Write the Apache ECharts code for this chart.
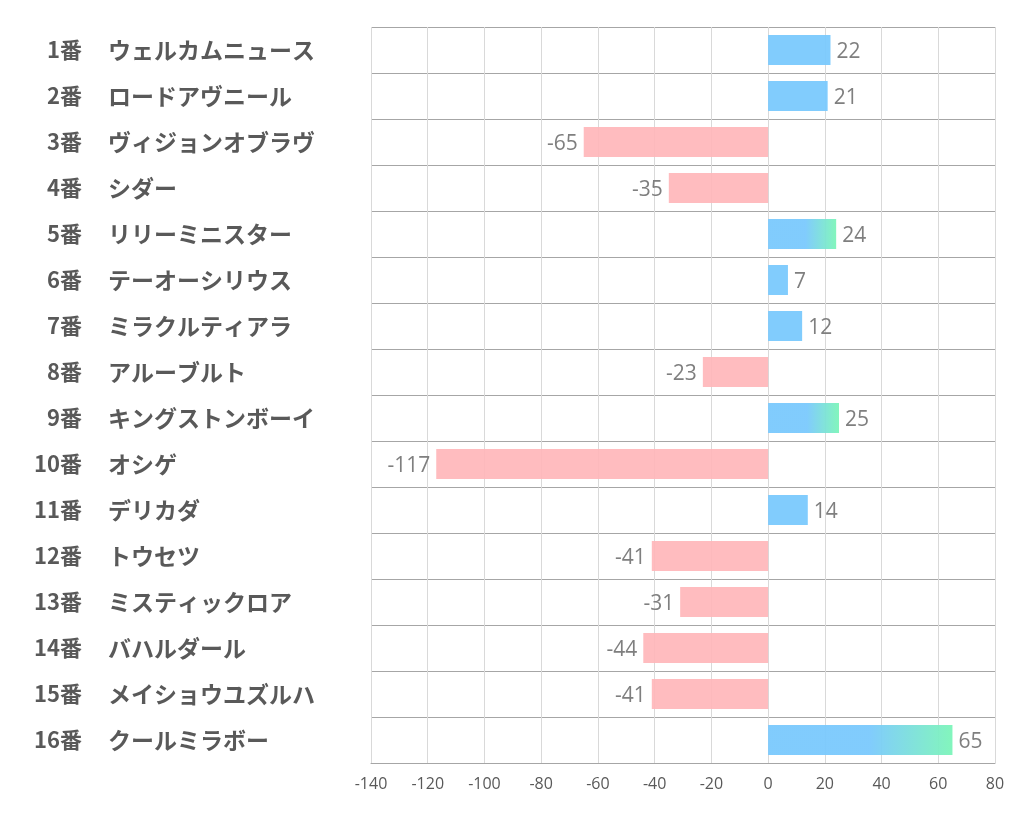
<!DOCTYPE html>
<html><head><meta charset="utf-8">
<script src="https://cdn.jsdelivr.net/npm/echarts@6/dist/echarts.min.js"></script>
<style>html,body{margin:0;padding:0;background:#fff}#c{width:1022px;height:834px}</style>
</head><body><div id="c"></div>
<script>
var numbers = ['1番','2番','3番','4番','5番','6番','7番','8番','9番','10番','11番','12番','13番','14番','15番','16番'];
var names = ['ウェルカムニュース','ロードアヴニール','ヴィジョンオブラヴ','シダー','リリーミニスター','テーオーシリウス','ミラクルティアラ','アルーブルト','キングストンボーイ','オシゲ','デリカダ','トウセツ','ミスティックロア','バハルダール','メイショウユズルハ','クールミラボー'];
var values = [22, 21, -65, -35, 24, 7, 12, -23, 25, -117, 14, -41, -31, -44, -41, 65];
var xTicks = [-140, -120, -100, -80, -60, -40, -20, 0, 20, 40, 60, 80];

var sortedPos = values.filter(function(v){return v>0;}).sort(function(a,b){return b-a;});
var topThreshold = sortedPos[2];
var blue = 'rgba(122,201,253,0.95)', green = 'rgba(124,245,185,0.95)', pink = 'rgba(255,182,186,0.92)';
var data = values.map(function(v){
  var color;
  if (v < 0) color = pink;
  else if (v >= topThreshold) color = new echarts.graphic.LinearGradient(0,0,1,0,[{offset:0,color:blue},{offset:0.55,color:blue},{offset:1,color:green}]);
  else color = blue;
  return {value: v, itemStyle: {color: color}, label: {position: v < 0 ? 'left' : 'right'}};
});

var nameFont = {fontSize: 23, fontWeight: 'bold', color: '#595959', fontFamily: 'Noto Sans CJK JP'};
var numFont = {fontSize: 22, fontWeight: 'bold', color: '#595959', fontFamily: 'Noto Sans CJK JP'};
var chart = echarts.init(document.getElementById('c'));
chart.setOption({
  animation: false,
  grid: {left: 371, right: 27, top: 27, bottom: 71, containLabel: false},
  xAxis: {
    type: 'value', min: xTicks[0], max: xTicks[xTicks.length-1], interval: 20,
    axisLine: {show: true, lineStyle: {color: '#a6a6a6', width: 1}},
    axisTick: {show: false},
    axisLabel: {color: '#595959', fontSize: 16, margin: 13, fontFamily: 'Open Sans, Noto Sans, sans-serif'},
    splitLine: {show: true, lineStyle: {color: '#d9d9d9', width: 1}}
  },
  yAxis: [{
    type: 'category', inverse: true, data: names, position: 'left',
    axisLine: {show: false}, axisTick: {show: false},
    splitLine: {show: true, lineStyle: {color: '#a6a6a6', width: 1}},
    axisLabel: Object.assign({margin: 263, align: 'left'}, nameFont)
  }, {
    type: 'category', inverse: true, data: numbers, position: 'left', offset: 0,
    axisLine: {show: false}, axisTick: {show: false}, splitLine: {show: false},
    axisLabel: Object.assign({margin: 289, align: 'right'}, numFont)
  }],
  series: [{
    type: 'bar', data: data, barWidth: 30, yAxisIndex: 0,
    label: {show: true, color: '#7f7f7f', fontSize: 21, distance: 6, offset: [0, 2], fontFamily: 'Open Sans, Noto Sans, sans-serif'}
  }]
});
</script></body></html>
